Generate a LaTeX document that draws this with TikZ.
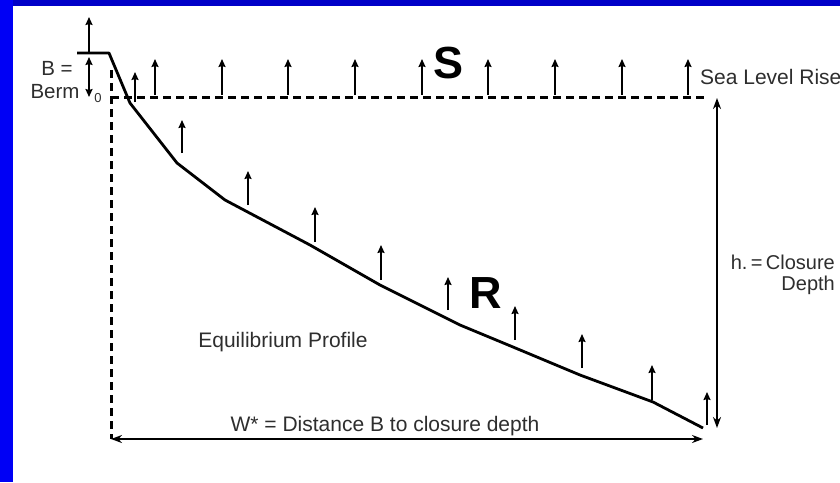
\documentclass[tikz,border=0pt]{standalone}
\usepackage{fontspec}
\setmainfont{Liberation Sans}
\usetikzlibrary{arrows.meta}
\definecolor{leftblue}{HTML}{0000F5}
\definecolor{topblue}{HTML}{0000C8}
\definecolor{txt}{HTML}{2E2E2E}
\begin{document}
\begin{tikzpicture}[x=1pt,y=-1pt,
  lbl/.style={text=txt,font=\fontsize{21}{22}\selectfont,inner sep=0pt},
  smlbl/.style={text=txt,font=\fontsize{20.5}{22}\selectfont,inner sep=0pt},
  hlbl/.style={text=txt,font=\fontsize{20}{22}\selectfont,inner sep=0pt},
  big/.style={text=black,font=\fontsize{45}{45}\selectfont\bfseries,inner sep=0pt},
  profile/.style={line width=2.8pt,line join=round},
  sealevel/.style={line width=3pt,dash pattern=on 8pt off 5pt},
  rise/.style={line width=2.2pt,-{Stealth[length=8pt,width=7pt,inset=1pt]}},
  dim/.style={line width=2.4pt,{Stealth[length=11pt,width=8pt]}-{Stealth[length=11pt,width=8pt]}},
  smdim/.style={line width=2.2pt,{Stealth[length=8pt,width=7pt,inset=1pt]}-{Stealth[length=8pt,width=7pt,inset=1pt]}}
]
\useasboundingbox (0,0) rectangle (840,482);
\fill[white] (0,0) rectangle (840,482);
\fill[topblue] (0,0) rectangle (840,6);
\fill[leftblue] (0,0) rectangle (13,482);

% sea level and vertical reference (dashed)
\coordinate (sl0) at (111,97);
\coordinate (sl1) at (707,97);
\coordinate (vd0) at (111,70);
\coordinate (vd1) at (111,439);
\draw[sealevel] (sl0) -- (sl1);
\draw[sealevel] (vd0) -- (vd1);

% berm and equilibrium profile
\coordinate (berm0) at (77,53);
\coordinate (berm1) at (109,53);
\coordinate (p1) at (130,103);
\coordinate (p2) at (177,163);
\coordinate (p3) at (225,200);
\coordinate (p4) at (310,245);
\coordinate (p5) at (380,285);
\coordinate (p6) at (460,325);
\coordinate (p7) at (513,347);
\coordinate (p8) at (580,375);
\coordinate (p9) at (653,402);
\coordinate (p10) at (703,428);
\draw[profile] (berm0) -- (berm1) -- (p1) -- (p2) -- (p3) -- (p4) -- (p5) -- (p6) -- (p7) -- (p8) -- (p9) -- (p10);

% dimension arrows
\coordinate (w0) at (111,439);
\coordinate (w1) at (703,439);
\draw[dim] (w0) -- (w1);
\coordinate (h0) at (717,98);
\coordinate (h1) at (717,428);
\draw[dim] (h0) -- (h1);

% berm arrows
\coordinate (ba0) at (89,53);
\coordinate (ba1) at (89,17);
\draw[rise] (ba0) -- (ba1);
\coordinate (bb0) at (89,57);
\coordinate (bb1) at (89,97);
\draw[smdim] (bb0) -- (bb1);

% sea level rise arrows
\foreach \x in {155,222,288,355,422,488,555,622,688}{
  \coordinate (sa\x) at (\x,95);
  \coordinate (sb\x) at (\x,59);
  \draw[rise] (sa\x) -- (sb\x);
}
% profile rise arrows
\foreach \x/\b/\t in {135/102/72,182/153/120,248/205/171,315/242/207,381/280/245,448/310/277,515/340/306,582/368/334,652/400/365,707/425/392}{
  \coordinate (ra\x) at (\x,\b);
  \coordinate (rb\x) at (\x,\t);
  \draw[rise] (ra\x) -- (rb\x);
}

% labels
\node[smlbl,anchor=base] (beq) at (57,75) {B =};
\node[smlbl,anchor=base] (berm) at (55,98) {Berm};
\node[text=txt,font=\fontsize{13}{14}\selectfont,inner sep=0pt] (zero) at (98,98) {0};
\node[big] (S) at (449,63) {S};
\node[big] (R) at (486,293) {R};
\node[lbl,anchor=base west] (slr) at (700,84) {Sea Level Rise};
\node[hlbl,anchor=base east] (hc) at (835,269) {h.\,=\,Closure};
\node[hlbl,anchor=base east] (hd) at (835,290) {Depth};
\node[lbl,anchor=base] (eq) at (283,347) {Equilibrium Profile};
\node[lbl,anchor=base] (wl) at (385,431) {W* = Distance B to closure depth};
\end{tikzpicture}
\end{document}
